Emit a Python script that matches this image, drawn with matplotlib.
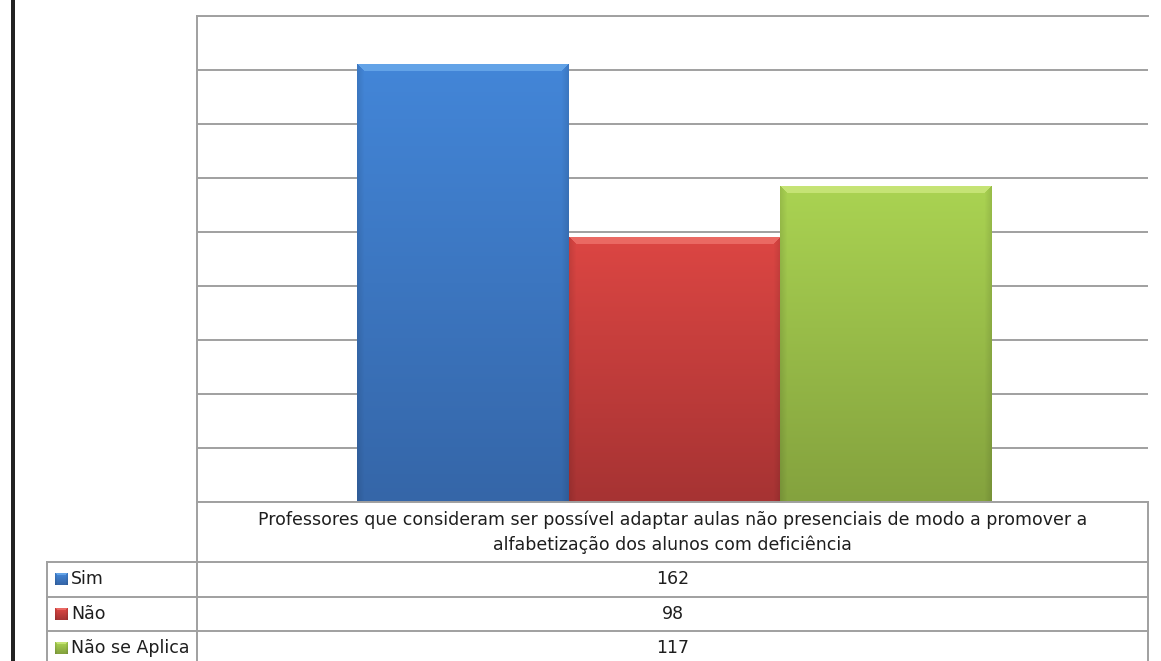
import numpy as np
import matplotlib
matplotlib.use('Agg')
import matplotlib.pyplot as plt
from matplotlib.patches import Rectangle
from matplotlib.colors import to_rgb

# dados
categoria = ('Professores que consideram ser possível adaptar aulas não presenciais de modo a promover a\n'
             'alfabetização dos alunos com deficiência')
series = ['Sim', 'Não', 'Não se Aplica']
valores = [162, 98, 117]
y_max = 180
y_passo = 20

# cores (topo, base, brilho do chanfro)
cor_topo = ['#4386d8', '#dc4643', '#aad352']
cor_base = ['#3566a8', '#a63333', '#84a23e']
cor_brilho = ['#7fbcf5', '#f7867f', '#ddf292']

W, H = 1161, 661
GRADE = '#a0a0a0'
TEXTO = '#1e1e1e'
FONTE = 12.5
plt.rcParams['font.family'] = 'DejaVu Sans'


def caixa(x0, y0, x1, y1):
    # caixa em pixels (origem no topo) -> coordenadas da figura
    return [x0 / W, 1 - y1 / H, (x1 - x0) / W, (y1 - y0) / H]


def textura(topo, base, brilho, w, h, b=7):
    # gradiente vertical com chanfro claro no topo e bordas laterais levemente escuras
    topo, base, brilho = map(np.array, (to_rgb(topo), to_rgb(base), to_rgb(brilho)))
    t = np.linspace(0, 1, h)[:, None, None]
    img = topo * (1 - t) + base * t
    img = np.repeat(img, w, axis=1)
    ii, jj = np.mgrid[0:h, 0:w]
    d_top = ii
    d_lat = np.minimum(jj, w - 1 - jj)
    lat = (d_lat < b) & (d_lat <= d_top)
    top = (d_top < b) & (d_top < d_lat)
    fator = 0.9 + 0.1 * (d_lat / b)
    img[lat] = img[lat] * fator[lat][:, None]
    img[top] = brilho * 0.55 + img[top] * 0.45
    return np.clip(img, 0, 1)


fig = plt.figure(figsize=(W / 100, H / 100), dpi=100)
fig.patch.set_facecolor('white')

ax = fig.add_axes(caixa(197, 16, 1148, 502))
n = len(series)
largura = 1 / (n + 1.5)
pos = [(i - (n - 1) / 2) * largura + 0.002 for i in range(n)]
barras = ax.bar(pos, valores, width=largura, color=cor_topo, zorder=2)

ax.set_xlim(-0.5, 0.5)
ax.set_ylim(0, y_max)
ax.set_yticks(np.arange(0, y_max + 1, y_passo))
ax.set_xticks([])
ax.tick_params(axis='y', length=0, labelleft=False)
ax.grid(axis='y', color=GRADE, linewidth=1.4, zorder=0)
for lado in ['right', 'bottom']:
    ax.spines[lado].set_visible(False)
ax.spines['left'].set_color(GRADE)
ax.spines['left'].set_linewidth(1.4)
ax.spines['top'].set_color(GRADE)
ax.spines['top'].set_linewidth(1.4)

fig.canvas.draw()
for k, r in enumerate(barras):
    x0, y0 = ax.transData.transform((r.get_x(), 0))
    x1, y1 = ax.transData.transform((r.get_x() + r.get_width(), r.get_height()))
    img = textura(cor_topo[k], cor_base[k], cor_brilho[k], int(round(x1 - x0)), int(round(y1 - y0)))
    ax.imshow(img, extent=(r.get_x(), r.get_x() + r.get_width(), 0, r.get_height()),
              aspect='auto', interpolation='bilinear', zorder=3)
ax.set_xlim(-0.5, 0.5)
ax.set_ylim(0, y_max)

# tabela de dados abaixo do gráfico
tab = fig.add_axes([0, 0, 1, 1], facecolor='none')
tab.set_xlim(0, W)
tab.set_ylim(H, 0)
tab.axis('off')

x_leg, x_col, x_fim = 47, 197, 1148
y_cab, y_lin, alt_lin = 502, 562, 34.5
linhas = [y_lin + i * alt_lin for i in range(n + 1)]

kw = dict(color=GRADE, linewidth=1.4)
tab.plot([x_col, x_fim], [y_cab, y_cab], **kw)
tab.plot([x_col, x_col], [y_cab, H], **kw)
tab.plot([x_fim, x_fim], [y_cab, H], **kw)
tab.plot([x_leg, x_leg], [y_lin, H], **kw)
for y in linhas:
    tab.plot([x_leg, x_fim], [y, y], **kw)

tab.text((x_col + x_fim) / 2, (y_cab + y_lin) / 2, categoria, ha='center', va='center',
         fontsize=FONTE, color=TEXTO, linespacing=1.45)

for i, (nome, v) in enumerate(zip(series, valores)):
    yc = linhas[i] + alt_lin / 2
    tab.imshow(textura(cor_topo[i], cor_base[i], cor_brilho[i], 13, 12, b=2),
               extent=(55, 68, yc + 6, yc - 6), aspect='auto', interpolation='bilinear')
    tab.text(71, yc, nome, ha='left', va='center', fontsize=FONTE, color=TEXTO)
    tab.text((x_col + x_fim) / 2, yc, str(v), ha='center', va='center', fontsize=FONTE, color=TEXTO)
tab.set_xlim(0, W)
tab.set_ylim(H, 0)

# barra preta da margem esquerda
fig.add_artist(Rectangle((11 / W, 0), 4 / W, 1, transform=fig.transFigure,
                         facecolor='#222222', edgecolor='none'))

fig.savefig('out.png', dpi=100)
